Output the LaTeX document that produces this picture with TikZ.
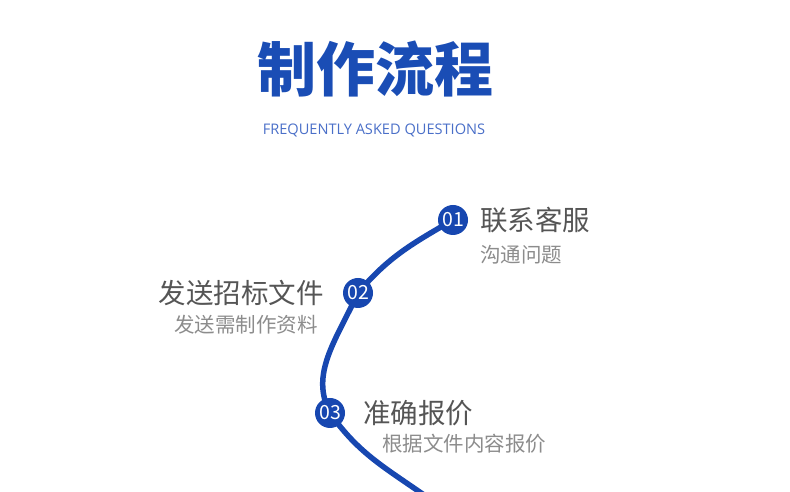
\documentclass[tikz,border=0pt]{standalone}
\usepackage{fontspec}
\setmainfont{Noto Sans CJK SC}
\newfontfamily\latinfont{Open Sans}
\usetikzlibrary{positioning,backgrounds}
\definecolor{Deep}{HTML}{1A4DB5}
\definecolor{Line}{HTML}{1747B0}
\definecolor{Soft}{HTML}{4A6FC8}
\definecolor{Ink}{HTML}{555555}
\definecolor{Faint}{HTML}{8C8C8C}

\begin{document}
\begin{tikzpicture}[x=1pt,y=1pt,
  stepdot/.style={circle,fill=Line,minimum size=30pt,inner sep=0pt,text=white,font=\fontsize{19.5}{19.5}\selectfont},
  headtxt/.style={inner sep=0pt,text=Ink,font=\fontsize{27.5}{27.5}\selectfont},
  subtxt/.style={inner sep=0pt,text=Faint,font=\fontsize{20.5}{20.5}\selectfont},
  track/.style={draw=Line,line width=5.5pt}
]
\useasboundingbox (0,0) rectangle (790,492);
% heading
\node[inner sep=0pt,text=Deep,font=\fontsize{59}{59}\selectfont\bfseries] (title) at (375,423) {制作流程};
\node[inner sep=0pt,text=Soft,font=\latinfont\fontsize{14.6}{14.6}\selectfont] (tag) at (374,362) {FREQUENTLY ASKED QUESTIONS};
% steps
\node[stepdot] (n1) at (453,272) {01};
\node[stepdot] (n2) at (358,199) {02};
\node[stepdot] (n3) at (330,79) {03};
\coordinate (tail) at (424,-3);
\node[headtxt,right=12pt of n1] (h1) {联系客服};
\node[subtxt,below=12pt of h1.south west,anchor=north west] (s1) {沟通问题};
\node[headtxt,left=19pt of n2] (h2) {发送招标文件};
\node[subtxt,below=9pt of h2.south east,anchor=north east,xshift=-6pt] (s2) {发送需制作资料};
\node[headtxt,right=18pt of n3] (h3) {准确报价};
\node[subtxt,below=8pt of h3.south west,anchor=north west,xshift=19pt] (s3) {根据文件内容报价};
\begin{scope}[on background layer]
\draw[track] (n1.center) to[out=210,in=50] (n2.center)
  .. controls +(-23,-49) and +(-20,39) .. (n3.center)
  to[out=-55,in=145] (tail);
\end{scope}
\end{tikzpicture}
\end{document}
